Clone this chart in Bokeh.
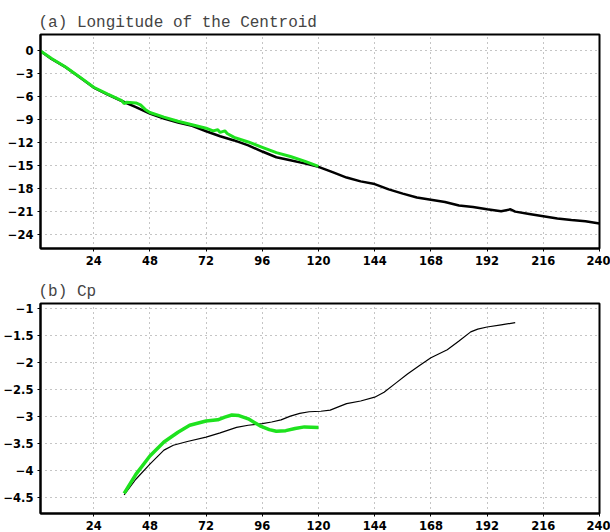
from bokeh.plotting import figure
from bokeh.layouts import column
from bokeh.models import Range1d, FixedTicker
from bokeh.embed import file_html
from bokeh.resources import INLINE

# ---------------- data ----------------
x_ticks = [24, 48, 72, 96, 120, 144, 168, 192, 216, 240]

# (a) Longitude of the Centroid
lon_black_x = [1, 6, 12, 18, 24, 30, 36, 42, 48, 54, 60, 66, 72, 78, 84, 90, 96, 102, 108, 114,
               120, 126, 132, 138, 144, 150, 156, 162, 168, 174, 180, 186, 192, 198, 202, 204,
               210, 216, 222, 228, 234, 240]
lon_black_y = [0.0, -1.1, -2.18, -3.5, -4.85, -5.75, -6.6, -7.4, -8.25, -8.9, -9.4, -9.85, -10.55,
               -11.2, -11.75, -12.4, -13.2, -13.95, -14.35, -14.75, -15.2, -15.9, -16.6, -17.1,
               -17.45, -18.15, -18.7, -19.2, -19.5, -19.8, -20.25, -20.45, -20.75, -21.0, -20.75,
               -21.05, -21.35, -21.65, -21.95, -22.15, -22.3, -22.6]
lon_green_x = [1, 6, 12, 18, 24, 30, 36, 37, 38, 42, 44, 46, 48, 54, 60, 66, 72, 75, 77, 78, 80,
               81, 84, 90, 96, 102, 108, 114, 120]
lon_green_y = [0.0, -1.05, -2.15, -3.45, -4.8, -5.7, -6.55, -6.95, -6.75, -6.85, -7.1, -7.7, -8.1,
               -8.7, -9.25, -9.7, -10.15, -10.5, -10.35, -10.7, -10.5, -10.85, -11.35, -11.95,
               -12.65, -13.35, -13.85, -14.45, -15.15]
lon_yticks = [0, -3, -6, -9, -12, -15, -18, -21, -24]
lon_ylabels = ["0", "\u22123", "\u22126", "\u22129", "\u221212", "\u221215", "\u221218",
               "\u221221", "\u221224"]

# (b) Cp
cp_black_x = [37, 42, 48, 54, 58, 64, 72, 78, 85, 90, 96, 100, 104, 108, 112, 116, 121, 125, 129,
              132, 138, 144, 148, 153, 158, 163, 168, 175, 180, 185, 188, 192, 198, 204]
cp_black_y = [-4.46, -4.17, -3.89, -3.63, -3.54, -3.47, -3.39, -3.31, -3.21, -3.17, -3.14, -3.11,
              -3.07, -3.0, -2.95, -2.92, -2.91, -2.89, -2.82, -2.77, -2.72, -2.65, -2.56, -2.39,
              -2.22, -2.07, -1.92, -1.77, -1.61, -1.44, -1.39, -1.35, -1.31, -1.27]
cp_green_x = [37, 42, 48, 54, 60, 65, 72, 77, 80, 83, 86, 90, 95, 99, 102, 106, 110, 114, 120]
cp_green_y = [-4.43, -4.08, -3.74, -3.48, -3.3, -3.17, -3.09, -3.07, -3.02, -2.98, -2.99, -3.05,
              -3.18, -3.25, -3.28, -3.27, -3.23, -3.2, -3.21]
cp_yticks = [-1, -1.5, -2, -2.5, -3, -3.5, -4, -4.5]
cp_ylabels = ["\u22121", "\u22121.5", "\u22122", "\u22122.5", "\u22123", "\u22123.5", "\u22124",
              "\u22124.5"]

GREEN = "#1ee21e"


def make_fig(title, height, top, bottom, yr, yticks, ylabels):
    p = figure(width=610, height=height, output_backend="svg", toolbar_location=None,
               x_range=Range1d(1.28, 240), y_range=Range1d(*yr),
               min_border_left=40, min_border_right=11, min_border_top=top,
               min_border_bottom=bottom, title=title)
    p.title.text_font = "Liberation Mono"
    p.title.text_font_size = "16px"
    p.title.text_font_style = "normal"
    p.title.align = "left"
    p.title.offset = -2
    p.title.standoff = 5
    p.outline_line_color = "black"
    p.outline_line_width = 2
    p.outline_line_alpha = 1

    p.xaxis.ticker = FixedTicker(ticks=x_ticks)
    p.yaxis.ticker = FixedTicker(ticks=yticks)
    p.yaxis.major_label_overrides = {t: l for t, l in zip(yticks, ylabels)}
    for ax in (p.xaxis, p.yaxis):
        ax.axis_line_width = 2
        ax.axis_line_color = "black"
        ax.major_tick_out = 3
        ax.major_tick_in = 0
        ax.minor_tick_line_color = None
        ax.major_tick_line_color = "black"
        ax.major_label_text_font = "DejaVu Sans"
        ax.major_label_text_font_style = "bold"
        ax.major_label_text_font_size = "11.5px"
        ax.major_label_text_color = "black"
        ax.major_label_standoff = 4
    for g in (p.xgrid, p.ygrid):
        g.grid_line_color = "#8a8a8a"
        g.grid_line_dash = "1 4"
        g.grid_line_width = 1
    return p


p1 = make_fig("(a) Longitude of the Centroid", 270, 34, 22, (-25.87, 2.09),
              lon_yticks, lon_ylabels)
p1.line(lon_black_x, lon_black_y, line_color="black", line_width=2.5)
p1.line(lon_green_x, lon_green_y, line_color=GREEN, line_width=3)

p2 = make_fig("(b) Cp", 262, 33, 15, (-4.804, -0.915), cp_yticks, cp_ylabels)
p2.line(cp_black_x, cp_black_y, line_color="black", line_width=1.2)
p2.line(cp_green_x, cp_green_y, line_color=GREEN, line_width=3.5)

layout = column(p1, p2)
open("out.html", "w").write(file_html(layout, INLINE))
